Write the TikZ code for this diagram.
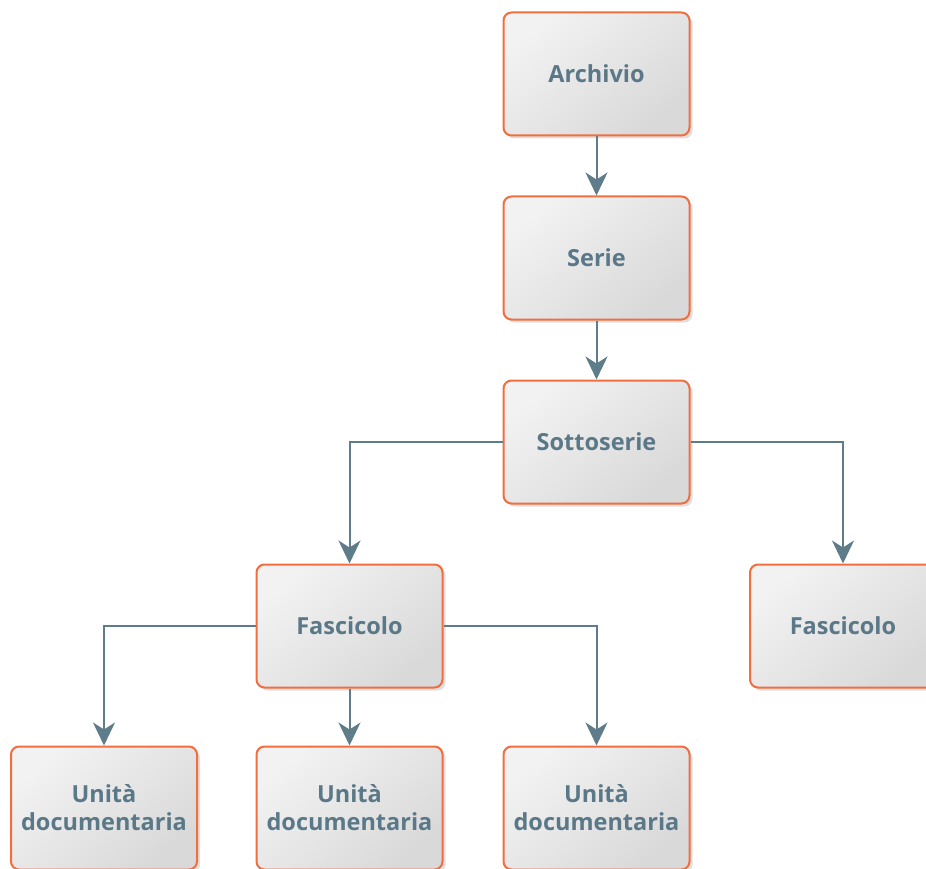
\documentclass[tikz,border=0pt]{standalone}
\usepackage{fontspec}
\setmainfont{Open Sans}
\usetikzlibrary{arrows.meta,shadows}
\definecolor{boxline}{HTML}{F26E3E}
\definecolor{labeltext}{HTML}{5A7888}
\definecolor{linkline}{HTML}{5E7C8A}
\begin{document}
\begin{tikzpicture}[x=1pt,y=-1pt,
	box/.style={draw=boxline,line width=2pt,rounded corners=8pt,
		minimum width=186pt,minimum height=123pt,inner sep=0pt,
		top color=white!95!black,bottom color=white!85!black,shading angle=40,
		drop shadow={opacity=0.25,shadow xshift=3pt,shadow yshift=-3pt},
		text=labeltext,font=\fontsize{23.5}{28}\selectfont\bfseries,align=center},
	link/.style={draw=linkline,line width=2pt,-{Stealth[length=23pt,width=22pt,inset=7pt]}}]
	%\draw[help lines] (0,0) grid (926,869);
	\useasboundingbox (0,0) rectangle (926,869);
	\clip (0,0) rectangle (926,869);
	\node[box] (archivio) at (596.5,74) {Archivio};
	\node[box] (serie) at (596.5,258) {Serie};
	\node[box] (sottoserie) at (596.5,442) {Sottoserie};
	\node[box] (fascA) at (349.5,626) {Fascicolo};
	\node[box] (fascB) at (843,626) {Fascicolo};
	\node[box] (unitA) at (104,808) {Unità\\documentaria};
	\node[box] (unitB) at (349.5,808) {Unità\\documentaria};
	\node[box] (unitC) at (596.5,808) {Unità\\documentaria};

	\draw[link] (archivio) -- (serie);
	\draw[link] (serie) -- (sottoserie);
	\draw[link] (sottoserie.west) -| (fascA.north);
	\draw[link] (sottoserie.east) -| (fascB.north);
	\draw[link] (fascA.west) -| (unitA.north);
	\draw[link] (fascA) -- (unitB);
	\draw[link] (fascA.east) -| (unitC.north);
\end{tikzpicture}
\end{document}
